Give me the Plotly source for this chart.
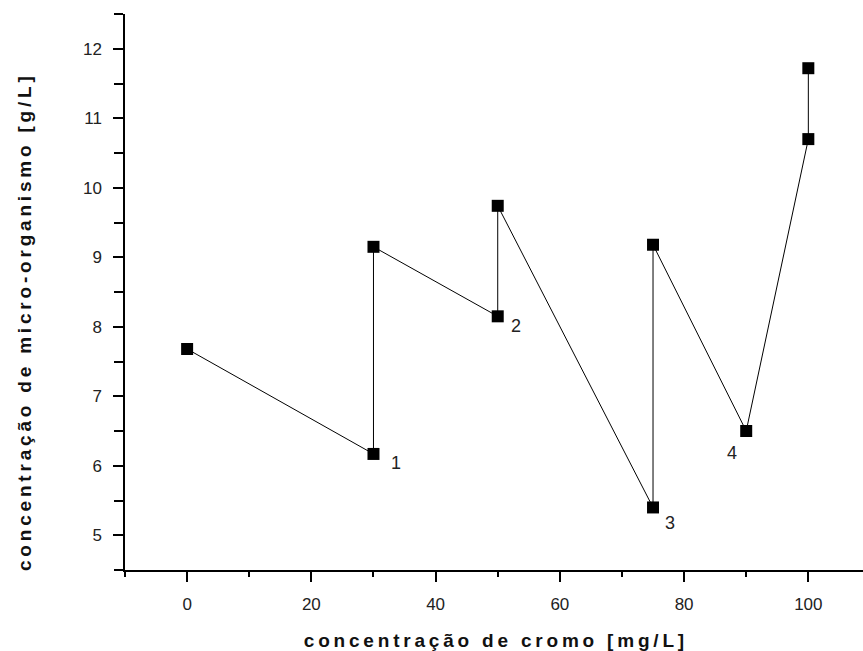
import plotly.graph_objects as go

# Data
x_vals = [0, 30, 30, 50, 50, 75, 75, 90, 100, 100]
y_vals = [7.68, 6.17, 9.15, 8.15, 9.74, 5.40, 9.18, 6.50, 10.70, 11.72]

label_idx = [1, 3, 5, 7]
label_text = ["1", "2", "3", "4"]

x_ticks = [0, 20, 40, 60, 80, 100]
y_ticks = [5, 6, 7, 8, 9, 10, 11, 12]

fig = go.Figure()
fig.add_trace(go.Scatter(
    x=x_vals, y=y_vals, mode="lines+markers",
    line=dict(color="black", width=1),
    marker=dict(symbol="square", size=12, color="black"),
    showlegend=False, hoverinfo="skip",
))

label_offsets = {"1": (23, -9), "2": (18, -10), "3": (17, -16), "4": (-14, -22)}
for i, t in zip(label_idx, label_text):
    dx, dy = label_offsets[t]
    fig.add_annotation(x=x_vals[i], y=y_vals[i], text=t, showarrow=False,
                       xshift=dx, yshift=dy,
                       font=dict(family="Liberation Sans, Arial", size=18, color="#222"))

axis_common = dict(
    showline=True, linecolor="black", linewidth=1.5, mirror=False,
    showgrid=False, zeroline=False, automargin=False,
    ticks="outside", ticklen=10, tickwidth=1.5, tickcolor="black",
    tickfont=dict(family="Liberation Sans, Arial", size=17, color="#222"),
)

thin = "\u2009"
def spaced(s):
    return (thin + " " + thin).join(thin.join(w) for w in s.split(" "))

xtitle = spaced("concentração de cromo [mg/L]")
ytitle = spaced("concentração de micro-organismo [g/L]")

title_font = dict(family="Liberation Sans, Arial", size=19, color="#111", weight="bold")

# y-axis title as a rotated annotation (placed slightly below plot centre, as in the reference)
fig.add_annotation(xref="paper", yref="paper", x=(24 - 125) / 738, y=(570 - 324) / 556,
                   text=ytitle, textangle=-90, showarrow=False, font=title_font,
                   xanchor="center", yanchor="middle")

fig.update_layout(
    width=863, height=651,
    paper_bgcolor="white", plot_bgcolor="white",
    margin=dict(l=125, r=0, t=14, b=81),
    xaxis=dict(range=[-10, 108.8], tickvals=x_ticks,
               minor=dict(ticks="outside", ticklen=5, tickwidth=1.5, tickcolor="black", dtick=10, tick0=-10),
               title=dict(text=xtitle, font=title_font, standoff=22),
               ticklabelstandoff=8,
               **axis_common),
    yaxis=dict(range=[4.5, 12.5], tickvals=y_ticks,
               minor=dict(ticks="outside", ticklen=9, tickwidth=1.5, tickcolor="black", dtick=0.5, tick0=4.5),
               ticklabelstandoff=8,
               **axis_common),
)

fig.write_html("out.html", config={"displayModeBar": False},
               post_script="document.body.style.margin='0';document.body.style.overflow='hidden';")
